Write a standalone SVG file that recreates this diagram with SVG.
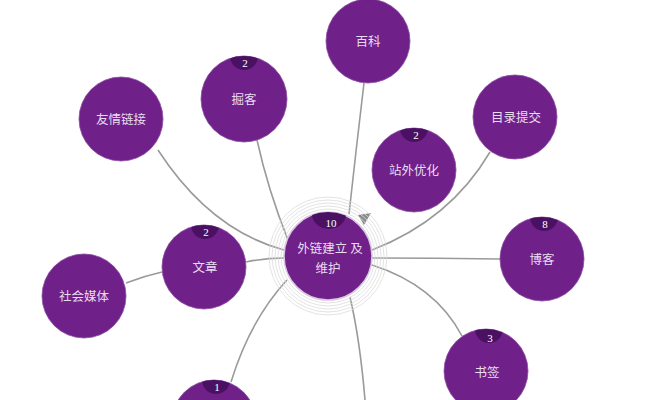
<svg xmlns="http://www.w3.org/2000/svg" width="672" height="400" viewBox="0 0 672 400">
<style>
.n{fill:#6f2189;stroke:#8a4aa0;stroke-width:0.8}
.b{fill:#4a1163}
.t{font-family:"Noto Sans CJK SC","Liberation Serif",serif;font-size:12.5px;fill:#eadcf0;text-anchor:middle}
.num{font-family:"Liberation Serif",serif;font-size:11px;fill:#ffffff;text-anchor:middle}
.c{fill:none;stroke:#9a9a9a;stroke-width:1.6}
.r{fill:none;stroke:#dcdcdc;stroke-width:0.8}
</style>
<defs>
<clipPath id="k1"><circle cx="244" cy="99" r="43"/></clipPath>
<clipPath id="k2"><circle cx="414" cy="170" r="42"/></clipPath>
<clipPath id="k3"><circle cx="204" cy="267" r="42"/></clipPath>
<clipPath id="k4"><circle cx="542" cy="259" r="42"/></clipPath>
<clipPath id="k5"><circle cx="486" cy="371" r="42"/></clipPath>
<clipPath id="k6"><circle cx="214" cy="422" r="42"/></clipPath>
<clipPath id="k0"><circle cx="328" cy="256" r="44"/></clipPath>
</defs>
<rect width="672" height="400" fill="#ffffff"/>
<g id="connectors">
<path class="c" d="M349 214 Q356 150 364 83"/>
<path class="c" d="M288 240 Q268 190 257 140"/>
<path class="c" d="M284 250 Q210 230 158 150"/>
<path class="c" d="M372 250 Q450 220 490 152"/>
<path class="c" d="M246 262 Q265 258 284 258"/>
<path class="c" d="M126 283 Q144 276 162 272"/>
<path class="c" d="M372 258 Q436 258 500 259"/>
<path class="c" d="M372 265 Q435 285 462 336"/>
<path class="c" d="M287 280 Q250 320 231 382"/>
<path class="c" d="M350 297 Q360 340 365 400"/>
<polygon points="371,213 358,215 364,225" fill="#8a8a8a"/>
</g>
<g id="center">
<circle class="r" cx="328" cy="256" r="47"/>
<circle class="r" cx="328" cy="256" r="50"/>
<circle class="r" cx="328" cy="256" r="53"/>
<circle class="r" cx="328" cy="256" r="56"/>
<circle class="r" cx="328" cy="256" r="59"/>
<circle cx="328" cy="256" r="44" fill="#6f2189" stroke="#d9c7e0" stroke-width="1.5"/>
<ellipse class="b" cx="329" cy="214" rx="17" ry="15" clip-path="url(#k0)"/>
<text class="num" x="331" y="227">10</text>
<text class="t" x="330" y="253">外链建立 及</text>
<text class="t" x="328" y="273">维护</text>
</g>
<g id="baike">
<circle class="n" cx="368" cy="41" r="42"/>
<text class="t" x="368" y="46">百科</text>
</g>
<g id="jueke">
<circle class="n" cx="244" cy="99" r="43"/>
<ellipse class="b" cx="244" cy="56" rx="14" ry="14" clip-path="url(#k1)"/>
<text class="num" x="245" y="67">2</text>
<text class="t" x="244" y="104">掘客</text>
</g>
<g id="youqing">
<circle class="n" cx="121" cy="119" r="42"/>
<text class="t" x="121" y="124">友情链接</text>
</g>
<g id="mulu">
<circle class="n" cx="515" cy="117" r="42"/>
<text class="t" x="516" y="122">目录提交</text>
</g>
<g id="zhanwai">
<circle class="n" cx="414" cy="170" r="42"/>
<ellipse class="b" cx="414" cy="128" rx="14" ry="14" clip-path="url(#k2)"/>
<text class="num" x="416" y="139">2</text>
<text class="t" x="414" y="175">站外优化</text>
</g>
<g id="wenzhang">
<circle class="n" cx="204" cy="267" r="42"/>
<ellipse class="b" cx="205" cy="225" rx="14" ry="14" clip-path="url(#k3)"/>
<text class="num" x="206" y="236">2</text>
<text class="t" x="205" y="272">文章</text>
</g>
<g id="shehui">
<circle class="n" cx="84" cy="296" r="42"/>
<text class="t" x="84" y="301">社会媒体</text>
</g>
<g id="boke">
<circle class="n" cx="542" cy="259" r="42"/>
<ellipse class="b" cx="544" cy="217" rx="14" ry="14" clip-path="url(#k4)"/>
<text class="num" x="545" y="228">8</text>
<text class="t" x="542" y="264">博客</text>
</g>
<g id="shuqian">
<circle class="n" cx="486" cy="371" r="42"/>
<ellipse class="b" cx="489" cy="329" rx="14" ry="14" clip-path="url(#k5)"/>
<text class="num" x="490" y="342">3</text>
<text class="t" x="487" y="377">书签</text>
</g>
<g id="bottom">
<circle class="n" cx="214" cy="422" r="42"/>
<ellipse class="b" cx="216" cy="380" rx="14" ry="14" clip-path="url(#k6)"/>
<text class="num" x="217" y="391">1</text>
</g>
</svg>
